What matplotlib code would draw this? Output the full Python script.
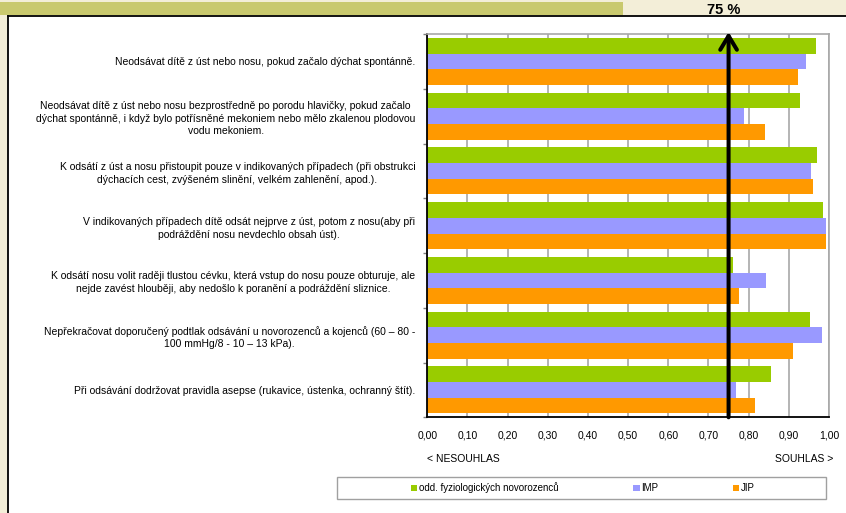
import matplotlib
matplotlib.use('Agg')
import matplotlib.pyplot as plt
from matplotlib.patches import Rectangle
from matplotlib.lines import Line2D
import numpy as np

plt.rcParams['font.family'] = ['Liberation Sans', 'DejaVu Sans']

categories = [
    "Neodsávat dítě z úst nebo nosu, pokud začalo dýchat spontánně.",
    "Neodsávat dítě z úst nebo nosu bezprostředně po porodu hlavičky, pokud začalo\n"
    "dýchat spontánně, i když bylo potřísněné mekoniem nebo mělo zkalenou plodovou\n"
    "vodu mekoniem.",
    "K odsátí z úst a nosu přistoupit pouze v indikovaných případech (při obstrukci\n"
    "dýchacích cest, zvýšeném slinění, velkém zahlenění, apod.).",
    "V indikovaných případech dítě odsát nejprve z úst, potom z nosu(aby při\n"
    "podráždění nosu nevdechlo obsah úst).",
    "K odsátí nosu volit raději tlustou cévku, která vstup do nosu pouze obturuje, ale\n"
    "nejde zavést hlouběji, aby nedošlo k poranění a podráždění sliznice.",
    "Nepřekračovat doporučený podtlak odsávání u novorozenců a kojenců (60 – 80 -\n"
    "100 mmHg/8 - 10 – 13 kPa).",
    "Při odsávání dodržovat pravidla asepse (rukavice, ústenka, ochranný štít).",
]
series_names = ["odd. fyziologických novorozenců", "IMP", "JIP"]
fyz = [0.968, 0.929, 0.969, 0.984, 0.760, 0.952, 0.855]
imp = [0.942, 0.788, 0.954, 0.992, 0.842, 0.982, 0.768]
jip = [0.922, 0.840, 0.959, 0.992, 0.775, 0.910, 0.816]
xticks = [0.0, 0.1, 0.2, 0.3, 0.4, 0.5, 0.6, 0.7, 0.8, 0.9, 1.0]
xticklabels = ["0,00", "0,10", "0,20", "0,30", "0,40", "0,50", "0,60", "0,70", "0,80", "0,90", "1,00"]
threshold = 0.75
threshold_label = "75 %"
left_label = "< NESOUHLAS"
right_label = "SOUHLAS >"

colors = ["#99cc00", "#9999ff", "#ff9900"]

W, H = 846, 513
fig = plt.figure(figsize=(W / 100, H / 100), dpi=100, facecolor="#f3eed8")

def fx(x):
    return x / W

def fy(y):
    return 1 - y / H

# background decorations
fig.patches.append(Rectangle((0, fy(15)), fx(623), 13 / H, transform=fig.transFigure,
                             facecolor="#c9c96e", edgecolor="none", zorder=-2))
fig.patches.append(Rectangle((fx(8), 0), 1 - fx(8), fy(16), transform=fig.transFigure,
                             facecolor="white", edgecolor="none", zorder=-2))
fig.lines.append(Line2D([fx(8), fx(8)], [0, fy(16)], transform=fig.transFigure, color="black",
                        lw=1.3, zorder=-1))
fig.lines.append(Line2D([fx(8), 1], [fy(16), fy(16)], transform=fig.transFigure, color="black",
                        lw=1.3, zorder=-1))
fig.patches.append(Rectangle((fx(337), fy(499)), (826 - 337) / W, 22 / H, transform=fig.transFigure,
                             facecolor="white", edgecolor="#a0a0a0", lw=1, zorder=-1))

ax = fig.add_axes([fx(427.3), fy(417.3), 401.7 / W, (417.3 - 34) / H])
ax.set_facecolor("white")

y = np.arange(len(categories))
h = 0.287
bars = []
for i, (vals, c) in enumerate(zip([fyz, imp, jip], colors)):
    b = ax.barh(y + (i - 1) * h, vals, height=h, color=c, edgecolor="none", zorder=2)
    bars.append(b)

ax.set_xlim(0, 1)
ax.set_ylim(len(categories) - 0.5, -0.5)
ax.set_xticks(xticks)
ax.set_xticklabels(xticklabels, fontsize=7.5)
ax.xaxis.grid(True, color="#a8a8a8", lw=1.2, zorder=0)
ax.set_axisbelow(True)
ax.tick_params(axis="x", length=0, pad=9.2)

ax.set_yticks(np.arange(-0.5, len(categories), 1))
ax.set_yticklabels([])
ax.tick_params(axis="y", which="major", length=3, color="#808080", width=1)
ax.set_yticks(y, minor=True)
ax.set_yticklabels(categories, minor=True, fontsize=7.5)
ax.tick_params(axis="y", which="minor", length=0, pad=8.6)
for lbl in ax.get_yticklabels(minor=True):
    lbl.set_multialignment("center")
    lbl.set_linespacing(1.36)

for s in ["left", "bottom"]:
    ax.spines[s].set_color("black")
    ax.spines[s].set_linewidth(1.3)
for s in ["top", "right"]:
    ax.spines[s].set_color("#a8a8a8")
    ax.spines[s].set_linewidth(1.2)

ax.annotate("", xy=(threshold, -0.537), xytext=(threshold, len(categories) - 0.5),
            xycoords="data",
            arrowprops=dict(arrowstyle="->,head_length=1.0,head_width=0.6", color="black",
                            lw=2.9, shrinkA=0, shrinkB=0),
            annotation_clip=False, zorder=5)

fig.text(fx(724), fy(10.5), threshold_label, ha="center", va="center", fontsize=10.5, fontweight="bold")
fig.text(fx(427), fy(459), left_label, ha="left", va="center", fontsize=7.5)
fig.text(fx(833), fy(459), right_label, ha="right", va="center", fontsize=7.5)

# legend
leg = fig.legend([b[0] for b in bars], series_names, loc="center left",
                 bbox_to_anchor=(fx(411), fy(488)), ncol=3, frameon=False,
                 handlelength=0.65, handleheight=0.65, handletextpad=0.15,
                 columnspacing=7.7, borderpad=0, borderaxespad=0, fontsize=7)

fig.savefig("out.png", dpi=100, facecolor=fig.get_facecolor())
